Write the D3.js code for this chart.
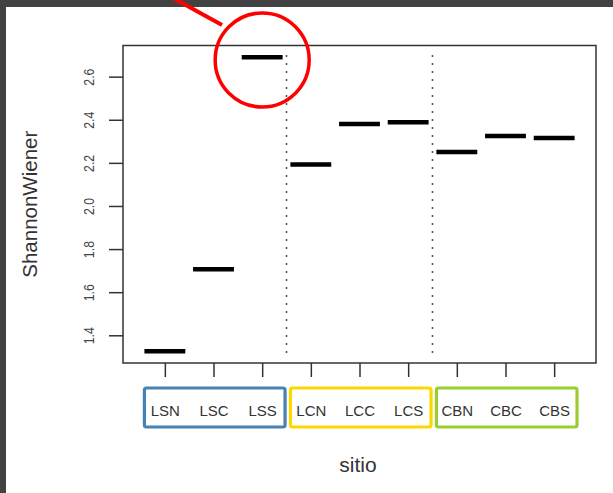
<!DOCTYPE html>
<html>
<head>
<meta charset="utf-8">
<script src="https://cdn.jsdelivr.net/npm/d3@7/dist/d3.min.js"></script>
<style>
  body { margin: 0; background: #fff; }
  text { font-family: "Liberation Sans", Arial, sans-serif; }
</style>
</head>
<body>
<svg id="chart" width="613" height="493"></svg>
<script>
// data
var sitios = ["LSN", "LSC", "LSS", "LCN", "LCC", "LCS", "CBN", "CBC", "CBS"]
var shannon = [1.326, 1.706, 2.690, 2.193, 2.380, 2.389, 2.250, 2.325, 2.315]
var yTicks = [1.4, 1.6, 1.8, 2.0, 2.2, 2.4, 2.6]
var groupColors = ["#4682B4", "#FFD700", "#9ACD32"]
var dividers = [3.5, 6.5]
var dividerRange = [1.3, 2.7]

var svg = d3.select("#chart")
var margin = {top: 45.5, right: 17, bottom: 130, left: 123}
var width = 613 - margin.left - margin.right
var height = 493 - margin.top - margin.bottom

// dark frame of the screenshot
svg.append("rect").attr("x", 0).attr("y", 0).attr("width", 613).attr("height", 7).attr("fill", "#424242")
svg.append("rect").attr("x", 0).attr("y", 0).attr("width", 6).attr("height", 493).attr("fill", "#424242")

// R style 4% expansion
var ext = d3.extent(shannon)
var pad = (ext[1] - ext[0]) * 0.04
var yScale = d3.scaleLinear().domain([ext[0] - pad, ext[1] + pad]).range([height, 0])
var xScale = d3.scaleLinear().domain([0.5 - 0.36, sitios.length + 0.5 + 0.36]).range([0, width])

var canvas = svg.append("g").attr("transform", "translate(" + margin.left + "," + margin.top + ")")

// dotted separators
canvas.selectAll("line.div").data(dividers).enter().append("line")
  .attr("class", "div")
  .attr("x1", d => xScale(d)).attr("x2", d => xScale(d))
  .attr("y1", yScale(dividerRange[1])).attr("y2", yScale(dividerRange[0]))
  .attr("stroke", "#555").attr("stroke-width", 1.6)
  .attr("stroke-dasharray", "2,6")

// segments
canvas.selectAll("line.seg").data(shannon).enter().append("line")
  .attr("class", "seg")
  .attr("x1", (d, i) => xScale(i + 1 - 0.42))
  .attr("x2", (d, i) => xScale(i + 1 + 0.42))
  .attr("y1", d => yScale(d)).attr("y2", d => yScale(d))
  .attr("stroke", "#000").attr("stroke-width", 4.5)

// box
canvas.append("rect").attr("x", 0).attr("y", 0).attr("width", width).attr("height", height)
  .attr("fill", "none").attr("stroke", "#333").attr("stroke-width", 1.5)

// y axis
var yAxis = d3.axisLeft(yScale).tickValues(yTicks).tickSize(14).tickFormat(d3.format(".1f"))
var gy = canvas.append("g").call(yAxis)
gy.select(".domain").remove()
gy.selectAll(".tick line").attr("stroke", "#333").attr("stroke-width", 1.5)
gy.selectAll(".tick text")
  .attr("x", 0).attr("dy", 0)
  .attr("transform", "translate(-29.5,0) rotate(-90) scale(0.85,1)")
  .attr("text-anchor", "middle")
  .attr("font-size", 14.5).attr("fill", "#444")
  .style("font-family", "Liberation Sans, Arial, sans-serif")

// x axis
var xAxis = d3.axisBottom(xScale).tickValues(d3.range(1, sitios.length + 1)).tickSize(14).tickFormat((d, i) => sitios[i])
var gx = canvas.append("g").attr("transform", "translate(0," + height + ")").call(xAxis)
gx.select(".domain").remove()
gx.selectAll(".tick line").attr("stroke", "#333").attr("stroke-width", 1.5)
gx.selectAll(".tick text")
  .attr("y", 53).attr("dy", 0)
  .attr("font-size", 15).attr("fill", "#333")
  .style("font-family", "Liberation Sans, Arial, sans-serif")

// coloured group boxes
canvas.selectAll("rect.grp").data(groupColors).enter().append("rect")
  .attr("class", "grp")
  .attr("x", (d, g) => xScale(g * 3 + 1 - 0.42))
  .attr("width", (d, g) => xScale(g * 3 + 3 + 0.47) - xScale(g * 3 + 1 - 0.42))
  .attr("y", height + 25).attr("height", 39)
  .attr("rx", 2)
  .attr("fill", "none").attr("stroke", d => d).attr("stroke-width", 3.2)

// axis titles
svg.append("text").attr("x", 358).attr("y", 472).attr("text-anchor", "middle")
  .attr("font-size", 21).attr("fill", "#333").text("sitio")
svg.append("text").attr("transform", "translate(37," + (margin.top + height / 2) + ") rotate(-90)")
  .attr("text-anchor", "middle").attr("font-size", 20.5).attr("fill", "#333").text("ShannonWiener")

// red annotation
svg.append("line").attr("x1", 173).attr("y1", -2).attr("x2", 222).attr("y2", 25)
  .attr("stroke", "#f00").attr("stroke-width", 4)
svg.append("circle").attr("cx", xScale(3) + margin.left).attr("cy", 60).attr("r", 47)
  .attr("fill", "none").attr("stroke", "#f00").attr("stroke-width", 3.5)
</script>
</body>
</html>
